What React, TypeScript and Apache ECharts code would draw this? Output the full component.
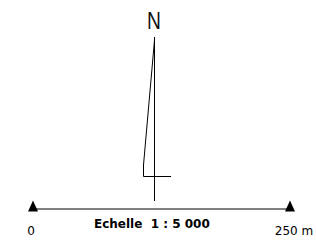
import React, { useEffect, useRef } from "react";
import * as echarts from "echarts";

// Scale bar data (metres)
const scaleDistances = [0, 250];
const scaleLabels = ["0", "250 m"];
const scaleTitle = "Echelle  1 : 5 000";
const northLabel = "N";

export default function App() {
  const ref = useRef<HTMLDivElement>(null);
  useEffect(() => {
    if (!ref.current) return;
    const chart = echarts.init(ref.current, null, { renderer: "svg" });
    const data = scaleDistances.map((d, i) => ({
      value: [d, 0],
      label: {
        show: true,
        formatter: scaleLabels[i],
        offset: i === 0 ? [-2, 0] : [4, 0],
      },
    }));
    chart.setOption({
      animation: false,
      backgroundColor: "#ffffff",
      title: {
        text: scaleTitle,
        left: 94,
        top: 218,
        padding: 0,
        textStyle: {
          fontFamily: "DejaVu Sans",
          fontWeight: "bold",
          fontSize: 12,
          color: "#000",
        },
      },
      grid: { left: 33, right: 26, top: 199, height: 20 },
      xAxis: {
        type: "value",
        min: 0,
        max: 250,
        show: false,
      },
      yAxis: { type: "value", min: -1, max: 1, show: false },
      series: [
        {
          type: "line",
          data,
          symbol: "triangle",
          symbolSize: [10, 11],
          symbolOffset: [0, -3],
          itemStyle: { color: "#000" },
          lineStyle: { color: "#000", width: 1 },
          label: {
            show: true,
            position: "bottom",
            distance: 13,
            fontFamily: "DejaVu Sans",
            fontSize: 12,
            color: "#000",
          },
        },
      ],
      graphic: [
        {
          type: "text",
          x: 154,
          y: 33,
          scaleX: 0.8,
          style: {
            text: northLabel,
            fontFamily: "Liberation Sans Narrow, Liberation Sans",
            fontSize: 24,
            fill: "#111",
            textAlign: "center",
            textVerticalAlign: "bottom",
          },
        },
        {
          type: "line",
          shape: { x1: 154.5, y1: 37, x2: 154.5, y2: 201 },
          style: { stroke: "#000", lineWidth: 1 },
        },
        {
          type: "polyline",
          shape: {
            points: [
              [154.5, 40],
              [143.5, 165],
              [143.5, 176.5],
              [171, 176.5],
            ],
          },
          style: { stroke: "#000", lineWidth: 1, fill: "none" },
        },
      ],
    });
    return () => chart.dispose();
  }, []);
  return (
    <div
      ref={ref}
      style={{ position: "fixed", left: 0, top: 0, width: 316, height: 240 }}
    />
  );
}
